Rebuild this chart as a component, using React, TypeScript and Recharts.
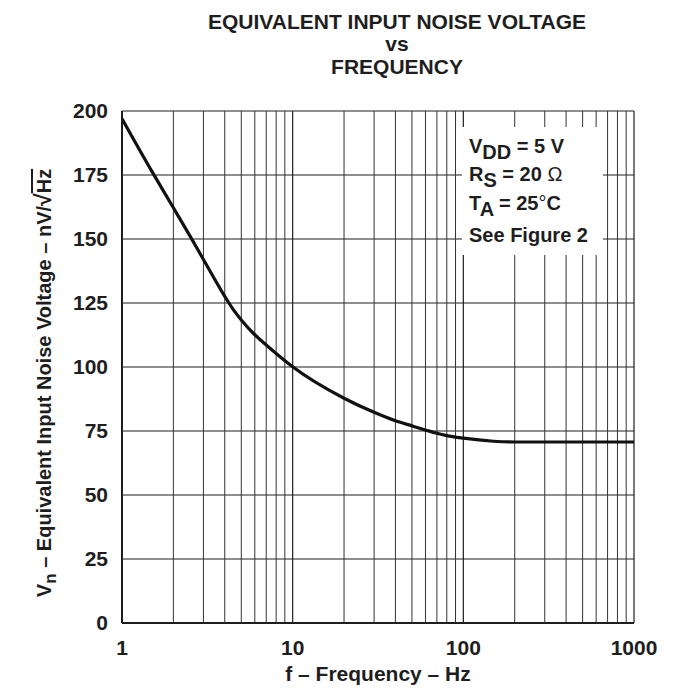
import React from 'react';
import { LineChart, Line, XAxis, YAxis, CartesianGrid, ReferenceLine } from 'recharts';

// Equivalent input noise voltage vs frequency (log x axis)
const frequencyHz = [1, 1.5, 2, 2.5, 3, 4, 4.5, 5, 6, 7, 8, 10, 20, 30, 40, 50, 60, 70, 80, 100, 150, 200, 300, 500, 1000];
const noiseNvRtHz = [197, 176.3, 162.2, 151.2, 142, 127.6, 122.3, 118.4, 112.6, 108.6, 105.3, 100.1, 87.8, 82.3, 79, 77, 75.4, 74.1, 73.2, 72.2, 71, 70.7, 70.7, 70.7, 70.7];

const xTicks = [1, 10, 100, 1000];
const yTicks = [0, 25, 50, 75, 100, 125, 150, 175, 200];
// minor decade lines 2..9, 20..90, 200..900
const minorFreqs = [2, 3, 4, 5, 6, 7, 8, 9, 20, 30, 40, 50, 60, 70, 80, 90, 200, 300, 400, 500, 600, 700, 800, 900];

const titleLines = ['EQUIVALENT INPUT NOISE VOLTAGE', 'vs', 'FREQUENCY'];

const data = frequencyHz.map((f, i) => ({ f, vn: noiseNvRtHz[i] }));

const FONT = '"Liberation Sans", Arial, Helvetica, sans-serif';
const INK = '#1e1e1e';

const tickStyle = { fontFamily: FONT, fontSize: 21, fontWeight: 700, fill: INK };

const YLabel = () => (
  <text
    transform="translate(51, 383) rotate(-90)"
    textAnchor="middle"
    fontFamily={FONT}
    fontSize={20}
    fontWeight={700}
    fill={INK}
  >
    V<tspan dy={5} fontSize={17}>n</tspan>
    <tspan dy={-5}> – Equivalent Input Noise Voltage – nV/</tspan>
    <tspan fontSize={23}>√</tspan>
    <tspan style={{ textDecoration: 'overline' }}>Hz</tspan>
  </text>
);

const App: React.FC = () => {
  return (
    <div style={{ position: 'absolute', left: 0, top: 0, width: 674, height: 689, background: '#fff' }}>
      <LineChart
        width={674}
        height={689}
        data={data}
        margin={{ top: 111, right: 40, bottom: 36, left: 62 }}
      >
        <CartesianGrid stroke={INK} strokeWidth={1.2} />
        {minorFreqs.map((f) => (
          <ReferenceLine key={f} x={f} stroke="#333" strokeWidth={1} />
        ))}
        <XAxis
          dataKey="f"
          type="number"
          scale="log"
          domain={[1, 1000]}
          ticks={xTicks}
          allowDataOverflow
          tickLine={false}
          tickSize={6}
          tickMargin={11}
          axisLine={{ stroke: INK, strokeWidth: 2 }}
          tick={tickStyle}
          height={30}
          label={{
            value: 'f – Frequency – Hz',
            position: 'insideBottom',
            offset: -28,
            style: { fontFamily: FONT, fontSize: 21, fontWeight: 700, fill: INK },
          }}
        />
        <YAxis
          type="number"
          domain={[0, 200]}
          ticks={yTicks}
          width={60}
          tickLine={false}
          tickSize={6}
          tickMargin={8}
          axisLine={{ stroke: INK, strokeWidth: 2 }}
          tick={tickStyle}
          label={<YLabel />}
        />
        <Line
          type="monotone"
          dataKey="vn"
          stroke="#111"
          strokeWidth={3.2}
          dot={false}
          isAnimationActive={false}
        />
      </LineChart>

      <svg
        width={674}
        height={689}
        style={{ position: 'absolute', left: 0, top: 0, pointerEvents: 'none' }}
        fontFamily={FONT}
        fontWeight={700}
        fill={INK}
      >
        {titleLines.map((t, i) => (
          <text key={t} x={397} y={[29, 51, 74][i]} textAnchor="middle" fontSize={21}>
            {t}
          </text>
        ))}

        {/* conditions box */}
        <rect x={462} y={127} width={141} height={128} fill="#fff" />
        <g fontSize={20}>
          <text x={469} y={153}>
            V<tspan dy={6}>DD</tspan>
            <tspan dy={-6}> = 5 V</tspan>
          </text>
          <text x={469} y={181}>
            R<tspan dy={6}>S</tspan>
            <tspan dy={-6}> = 20 </tspan>
            <tspan fontWeight={400}>Ω</tspan>
          </text>
          <text x={469} y={210}>
            T<tspan dy={6}>A</tspan>
            <tspan dy={-6}> = 25</tspan>
            <tspan fontWeight={400}>°</tspan>
            <tspan>C</tspan>
          </text>
          <text x={469} y={242}>See Figure 2</text>
        </g>
      </svg>
    </div>
  );
};

export default App;
